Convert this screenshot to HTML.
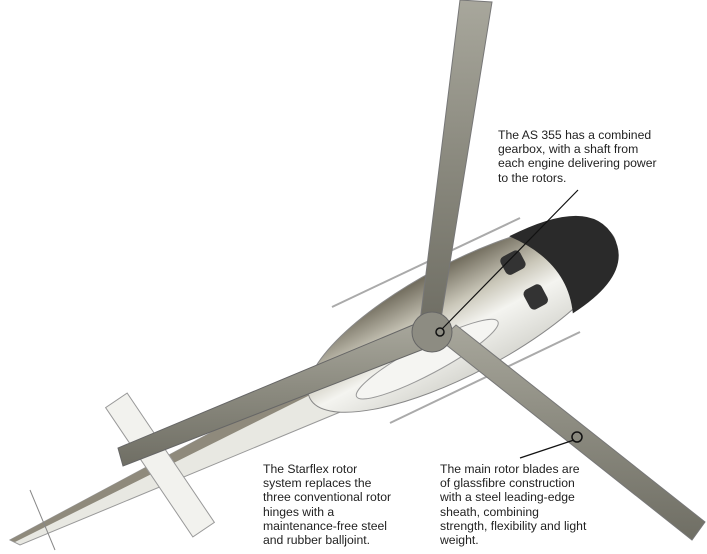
<!DOCTYPE html>
<html><head><meta charset="utf-8"><style>
html,body{margin:0;padding:0;background:#fff;}
.w{position:relative;width:707px;height:554px;overflow:hidden;font-family:"Liberation Sans",sans-serif;}
.t{position:absolute;font-size:12.2px;line-height:14.2px;color:#222;}
</style></head><body><div class="w">
<svg width="707" height="554" style="position:absolute;left:0;top:0">
<defs>
<linearGradient id="bl" x1="0" y1="0" x2="0" y2="1"><stop offset="0" stop-color="#a8a79c"/><stop offset="0.5" stop-color="#8a897e"/><stop offset="1" stop-color="#6f6e64"/></linearGradient>
<linearGradient id="bd" x1="0" y1="0" x2="0" y2="1"><stop offset="0" stop-color="#6f6a5b"/><stop offset="0.35" stop-color="#c9c6b8"/><stop offset="0.6" stop-color="#f4f4f0"/><stop offset="1" stop-color="#d8d8d2"/></linearGradient>
</defs>
<g stroke="#aaa" stroke-width="2" fill="none">
<line x1="332" y1="307" x2="520" y2="218"/>
<line x1="390" y1="423" x2="580" y2="332"/>
</g>
<polygon points="10,540 300,385 345,410 20,545" fill="#e8e8e2" stroke="#999" stroke-width="1"/>
<polygon points="10,540 300,385 310,395 15,542" fill="#8f8a7c"/>
<g transform="translate(160,465) rotate(56)">
<rect x="-78" y="-13" width="156" height="26" fill="#f2f2ee" stroke="#999"/>
</g>
<line x1="30" y1="490" x2="55" y2="550" stroke="#888"/>
<g transform="translate(462,318) rotate(-28)">
<ellipse cx="0" cy="0" rx="172" ry="55" fill="url(#bd)" stroke="#888"/>
<path d="M80,-50 Q172,-48 172,0 Q172,42 100,48 Q120,0 80,-50Z" fill="#2a2a2a"/>
<rect x="60" y="-35" width="22" height="20" rx="5" fill="#333"/>
<rect x="65" y="5" width="20" height="22" rx="5" fill="#333"/>
<ellipse cx="-50" cy="20" rx="80" ry="15" fill="#f5f5f2" stroke="#999"/>
</g>
<polygon points="460,0 492,2 440,325 420,322" fill="url(#bl)" stroke="#777"/>
<polygon points="420,322 442,342 123,466 118,448" fill="url(#bl)" stroke="#666"/>
<polygon points="440,340 456,325 705,522 692,540" fill="url(#bl)" stroke="#777"/>
<circle cx="432" cy="332" r="20" fill="#8d8c82" stroke="#666"/>
<circle cx="440" cy="332" r="4" fill="none" stroke="#111" stroke-width="1.5"/>
<line x1="442" y1="329" x2="578" y2="190" stroke="#111" stroke-width="1.2"/>
<line x1="574" y1="440" x2="520" y2="458" stroke="#111" stroke-width="1.2"/>
<circle cx="577" cy="437" r="5" fill="none" stroke="#111" stroke-width="1.5"/>
</svg>
<div class="t" style="left:498px;top:128px">The AS 355 has a combined<br>gearbox, with a shaft from<br>each engine delivering power<br>to the rotors.</div>
<div class="t" style="left:263px;top:462px">The Starflex rotor<br>system replaces the<br>three conventional rotor<br>hinges with a<br>maintenance-free steel<br>and rubber balljoint.</div>
<div class="t" style="left:440px;top:462px">The main rotor blades are<br>of glassfibre construction<br>with a steel leading-edge<br>sheath, combining<br>strength, flexibility and light<br>weight.</div>
</div></body></html>
